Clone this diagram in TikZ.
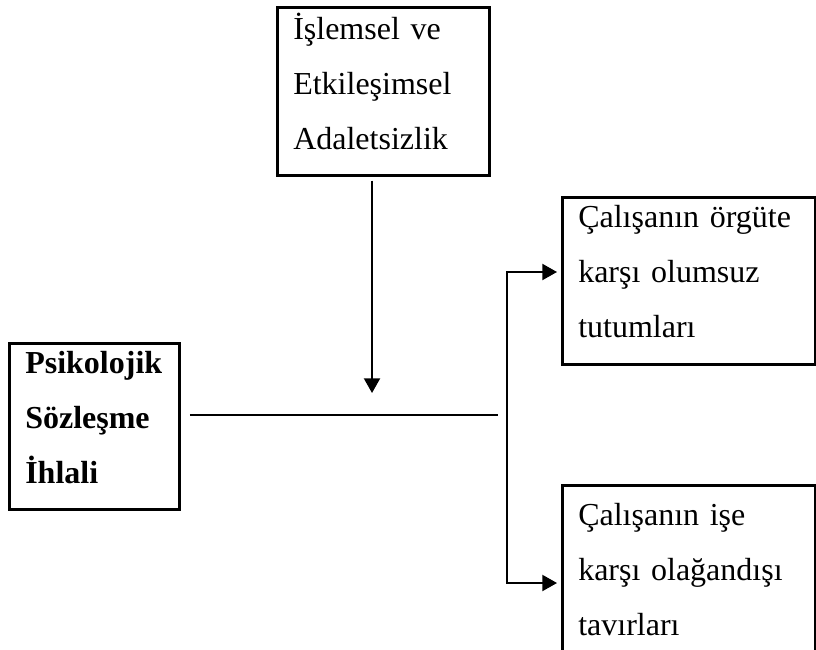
\documentclass[tikz,border=0pt]{standalone}
\usepackage{fontspec}
\setmainfont{Liberation Serif}
\usepackage{tikz}
\usetikzlibrary{arrows.meta,positioning}

\begin{document}
\begin{tikzpicture}[x=0.75pt, y=-0.75pt,
    kutu/.style={draw, line width=1.9pt, rectangle, anchor=north west, align=left, inner xsep=12pt, inner ysep=0pt, text height=24pt, text depth=102pt, font=\fontsize{24}{41.25}\selectfont},
    cizgi/.style={line width=1.5pt},
    ok/.style={line width=1.5pt, -{Triangle[length=11pt, width=12pt]}},
    ikiok/.style={line width=1.5pt, {Triangle[length=11pt, width=12pt]}-{Triangle[length=11pt, width=12pt]}}]
    \useasboundingbox (0,0) rectangle (816,649);
    \node[kutu, text width=135pt] (islem) at (276,6) {İşlemsel ve\\Etkileşimsel\\Adaletsizlik};
    \node[kutu, text width=103.5pt, text height=22.5pt, text depth=102pt, font=\fontsize{24}{41.25}\selectfont\bfseries] (ihlal) at (8,342) {Psikolojik\\Sözleşme\\İhlali};
    \node[kutu, text width=165.75pt, text height=23pt, text depth=102.25pt] (tutum) at (561,196) {Çalışanın örgüte\\karşı olumsuz\\tutumları};
    \node[kutu, text width=165.75pt, text height=30pt, text depth=100.5pt] (tavir) at (561,484) {Çalışanın işe\\karşı olağandışı\\tavırları};

    \coordinate (okucu) at (372,393);
    \coordinate (hatsonu) at (498,415);
    \coordinate (dalust) at (507,272);
    \coordinate (dalalt) at (507,583);

    \draw[ok] (islem.south -| okucu) ++(0,4) -- (okucu);
    \draw[cizgi] ([xshift=7pt]ihlal.east |- hatsonu) -- (hatsonu);
    \draw[ikiok] ([xshift=-3pt]tutum.west |- dalust) -- (dalust) -- (dalalt) -- ([xshift=-3pt]tavir.west |- dalalt);
\end{tikzpicture}
\end{document}
